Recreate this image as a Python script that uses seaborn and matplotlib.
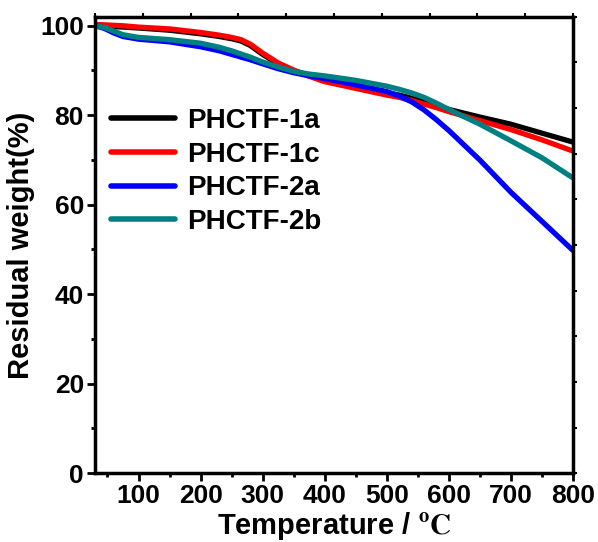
import numpy as np
import pandas as pd
import matplotlib
matplotlib.use("Agg")
import matplotlib.pyplot as plt
import seaborn as sns
from matplotlib.ticker import MultipleLocator

temp = [30, 45, 60, 75, 100, 150, 200, 230, 250, 265, 280, 300, 325, 350, 375, 400, 450,
        500, 520, 540, 560, 580, 600, 650, 700, 750, 800]
w_1a = [100.0, 99.9, 99.8, 99.7, 99.5, 99.0, 98.2, 97.6, 97.1, 96.6, 95.6, 93.6, 91.5, 90.0, 88.9,
        88.0, 86.5, 85.0, 84.5, 83.8, 83.0, 82.2, 81.3, 79.6, 78.0, 76.0, 74.0]
w_1c = [100.3, 100.2, 100.1, 100.0, 99.7, 99.3, 98.5, 97.9, 97.4, 96.9, 95.9, 93.9, 91.7, 90.1, 88.7,
        87.5, 86.0, 84.5, 84.0, 83.3, 82.5, 81.7, 80.8, 78.8, 76.8, 74.5, 72.0]
w_2a = [100.0, 99.4, 98.4, 97.6, 97.0, 96.4, 95.3, 94.4, 93.6, 93.0, 92.4, 91.5, 90.4, 89.5, 88.8,
        88.2, 86.8, 85.3, 84.3, 83.0, 81.2, 79.0, 76.6, 70.0, 62.8, 56.3, 49.8]
w_2b = [100.0, 99.6, 98.8, 98.0, 97.4, 96.9, 96.1, 95.2, 94.4, 93.7, 93.0, 91.9, 90.8, 89.8, 89.2,
        88.8, 87.8, 86.5, 85.8, 85.0, 84.0, 82.7, 81.3, 78.0, 74.3, 70.5, 66.0]
labels = ["PHCTF-1a", "PHCTF-1c", "PHCTF-2a", "PHCTF-2b"]
colors = ["#000000", "#ff0000", "#0000ff", "#008080"]

df = pd.concat([pd.DataFrame({"T": temp, "W": w, "sample": lab})
                for w, lab in zip([w_1a, w_1c, w_2a, w_2b], labels)])

sns.set_style("ticks", rc={"axes.edgecolor": "black", "xtick.color": "black",
                           "ytick.color": "black", "text.color": "black",
                           "axes.labelcolor": "black"})
plt.rcParams['font.family'] = ['Liberation Sans Narrow', 'Liberation Sans', 'DejaVu Sans']
plt.rcParams['font.weight'] = 'bold'
plt.rcParams['mathtext.fontset'] = 'stix'

fig = plt.figure(figsize=(5.98, 5.42), dpi=100)
ax = fig.add_axes([0.159, 0.127, 0.799, 0.842])

sns.lineplot(data=df, x="T", y="W", hue="sample", palette=colors, linewidth=3.8,
             ax=ax, sort=False)

ax.set_xlim(30, 800)
ax.set_ylim(0, 102)
ax.xaxis.set_major_locator(MultipleLocator(100))
ax.xaxis.set_minor_locator(MultipleLocator(50))
ax.yaxis.set_major_locator(MultipleLocator(20))
ax.yaxis.set_minor_locator(MultipleLocator(10))
ax.tick_params(which='major', direction='out', length=6, width=2, labelsize=19, pad=2)
ax.tick_params(which='minor', direction='out', length=3, width=2)
for lab in ax.get_xticklabels() + ax.get_yticklabels():
    lab.set_fontweight('bold')
for s in ax.spines.values():
    s.set_linewidth(2.5)
    s.set_color('black')

# mirror ticks on top and right, ten equal divisions
top = ax.secondary_xaxis('top', functions=(lambda x: (x - 30) / 770, lambda f: f * 770 + 30))
top.set_xticks(np.linspace(0, 1, 11))
top.tick_params(direction='out', length=3, width=1.5, labeltop=False)
right = ax.secondary_yaxis('right', functions=(lambda y: y / 102, lambda f: f * 102))
right.set_yticks(np.linspace(0, 1, 11))
right.tick_params(direction='out', length=3, width=1.5, labelright=False)

ax.set_xlabel(r'Temperature / $\mathrm{^{o}C}$', fontsize=21, fontweight='bold', labelpad=1)
ax.set_ylabel('Residual weight(%)', fontsize=21, fontweight='bold', labelpad=4)

leg = ax.legend(loc='upper left', bbox_to_anchor=(0.01, 0.825), borderaxespad=0, frameon=False,
                fontsize=20, handlelength=2.3, handletextpad=0.45, labelspacing=0.28)
for t in leg.get_texts():
    t.set_fontweight('bold')
for h in leg.get_lines():
    h.set_linewidth(4)

fig.savefig("out.png", dpi=100)
